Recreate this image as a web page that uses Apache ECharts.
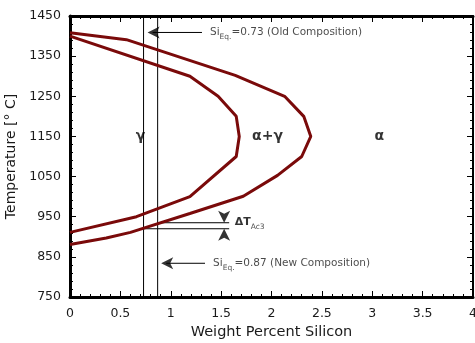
<!DOCTYPE html>
<html><head><meta charset="utf-8">
<script src="https://cdn.jsdelivr.net/npm/echarts@6/dist/echarts.min.js"></script>
<style>html,body{margin:0;padding:0;background:#fff}#c{width:475px;height:343px}</style>
</head><body><div id="c"></div>
<script>
// Phase boundary curves (weight % Si, temperature °C)
const innerSi = [0, 1.19, 1.47, 1.65, 1.68, 1.65, 1.19, 0.66, 0];
const innerT  = [1400, 1300, 1250, 1200, 1150, 1100, 1000, 950, 911];
const outerSi = [0, 0.56, 1.64, 2.13, 2.32, 2.39, 2.30, 2.06, 1.72, 1.19, 0.60, 0.36, 0];
const outerT  = [1408, 1391, 1302, 1250, 1200, 1150, 1100, 1053, 1001, 958, 911, 897, 881];
// Composition markers
const siOld = 0.73, siNew = 0.87;
const ac3Old = 920, ac3New = 935;
const dTEnd = 1.58, dTArrowSi = 1.53;
// Annotation arrows
const oldArrow = {tip: 0.77, tail: 1.31, T: 1409, textSi: 1.39};
const newArrow = {tip: 0.905, tail: 1.34, T: 834, textSi: 1.42};
// Region labels
const regionNames = ['γ', 'α+γ', 'α'];
const regionSi = [0.70, 1.96, 3.07];
const regionT = 1150;
const xTicks = {min: 0, max: 4, interval: 0.5};
const yTicks = {min: 750, max: 1450, interval: 100};

const FONT = 'DejaVu Sans';
const curveColor = '#7a0a0a';
const zip = (a, b) => a.map((v, i) => [v, b[i]]);

const chart = echarts.init(document.getElementById('c'), null, {renderer: 'canvas'});
const axisCommon = {
  axisLine: {show: true, onZero: false, lineStyle: {color: '#000', width: 3}},
  axisTick: {show: true, inside: true, length: 6, lineStyle: {color: '#000', width: 1}},
  minorTick: {show: true, splitNumber: 5, length: 3, lineStyle: {color: '#000', width: 1}},
  splitLine: {show: false}
};
const line = (data, color, width, z) => ({type: 'line', data, symbol: 'none', silent: true, z: z || 2,
  lineStyle: {color, width}, itemStyle: {color}, animation: false});

const arrowHead = (pt, rot) => ({value: pt, symbolRotate: rot});

const subRich = {
  a: {fontFamily: FONT, fontSize: 10.5, color: '#1a1a1a'},
  b: {fontFamily: FONT, fontSize: 7.5, color: '#1a1a1a', padding: [10, 0, 0, 0]}
};

chart.setOption({
  animation: false,
  grid: {left: 70, right: 2, top: 16, bottom: 46, containLabel: false, outerBoundsMode: 'none'},
  xAxis: [
    Object.assign({type: 'value', position: 'bottom', min: xTicks.min, max: xTicks.max, interval: xTicks.interval,
      name: 'Weight Percent Silicon', nameLocation: 'middle', nameGap: 27,
      nameTextStyle: {fontFamily: FONT, fontSize: 14.5, color: '#1a1a1a'},
      axisLabel: {fontFamily: FONT, fontSize: 12.5, color: '#1a1a1a', margin: 10, formatter: v => String(v)}}, axisCommon),
    Object.assign({type: 'value', position: 'top', min: xTicks.min, max: xTicks.max, interval: xTicks.interval,
      axisLabel: {show: false}}, axisCommon)
  ],
  yAxis: [
    Object.assign({type: 'value', position: 'left', min: yTicks.min, max: yTicks.max, interval: yTicks.interval,
      name: 'Temperature [° C]', nameLocation: 'middle', nameGap: 50,
      nameTextStyle: {fontFamily: FONT, fontSize: 14, color: '#1a1a1a'},
      axisLabel: {fontFamily: FONT, fontSize: 12.5, color: '#1a1a1a', margin: 9, formatter: v => String(v)}}, axisCommon),
    Object.assign({type: 'value', position: 'right', min: yTicks.min, max: yTicks.max, interval: yTicks.interval,
      axisLabel: {show: false}}, axisCommon, {axisLine: {show: true, onZero: false, lineStyle: {color: '#000', width: 2}}})
  ],
  series: [
    line(zip(innerSi, innerT), curveColor, 3, 3),
    line(zip(outerSi, outerT), curveColor, 3, 3),
    line([[siOld, yTicks.min], [siOld, yTicks.max]], '#000', 1),
    line([[siNew, yTicks.min], [siNew, yTicks.max]], '#000', 1),
    line([[siNew, ac3New], [dTEnd, ac3New]], '#000', 1),
    line([[siOld, ac3Old], [dTEnd, ac3Old]], '#000', 1),
    line([[oldArrow.tip + 0.05, oldArrow.T], [oldArrow.tail, oldArrow.T]], '#000', 1),
    line([[newArrow.tip + 0.05, newArrow.T], [newArrow.tail, newArrow.T]], '#000', 1),
    {type: 'scatter', symbol: 'arrow', symbolSize: [9, 12], itemStyle: {color: '#000'}, silent: true, z: 5,
      data: [
        arrowHead([oldArrow.tip, oldArrow.T], 90),
        arrowHead([newArrow.tip, newArrow.T], 90),
        arrowHead([dTArrowSi, ac3New], 180),
        arrowHead([dTArrowSi, ac3Old], 0)
      ]},
    {type: 'scatter', symbolSize: 0, silent: true, z: 6,
      label: {show: true, position: 'inside', fontFamily: FONT, fontWeight: 'bold', fontSize: 14, color: '#000'},
      data: regionNames.map((n, i) => ({name: n, value: [regionSi[i], regionT], label: {formatter: n}}))},
    {type: 'scatter', symbolSize: 0, silent: true, z: 6,
      label: {show: true, position: 'right', distance: 0, rich: subRich},
      data: [
        {value: [oldArrow.textSi, oldArrow.T], label: {formatter: '{a|Si}{b|Eq.}{a|=' + siOld + ' (Old Composition)}'}},
        {value: [newArrow.textSi, newArrow.T], label: {formatter: '{a|Si}{b|Eq.}{a|=' + siNew + ' (New Composition)}'}},
        {value: [1.635, 936], label: {formatter: '{c|ΔT}{d|Ac3}', rich: {
          c: {fontFamily: FONT, fontSize: 11, fontWeight: 'bold', color: '#000'},
          d: {fontFamily: FONT, fontSize: 7.5, color: '#1a1a1a', padding: [10, 0, 0, 0]}}}}
      ]}
  ]
});
</script></body></html>
